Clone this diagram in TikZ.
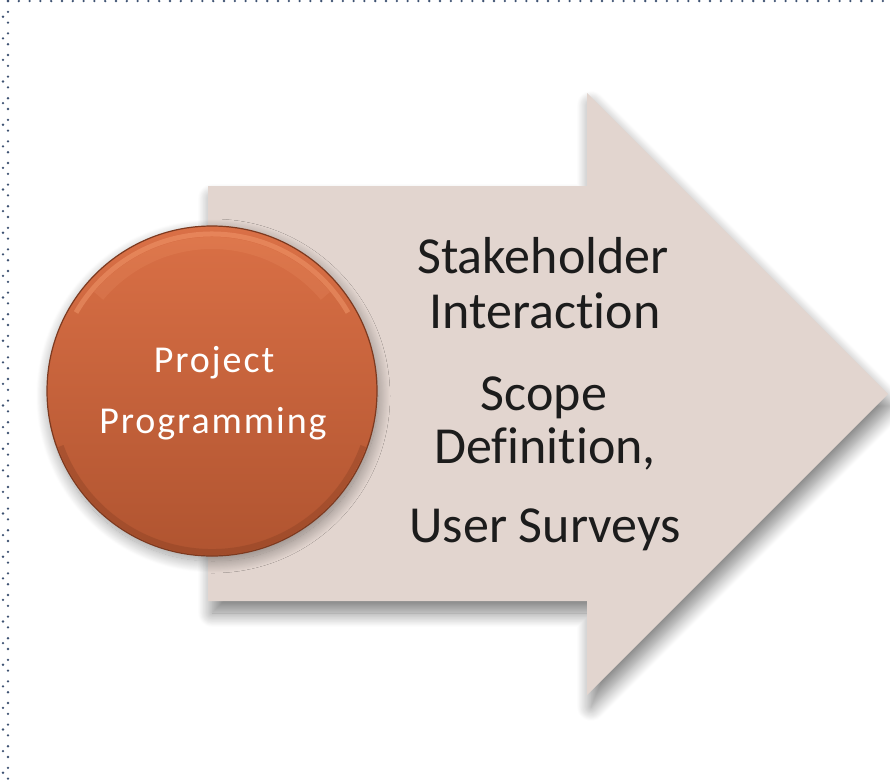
\documentclass[tikz,border=0pt]{standalone}
\usepackage{fontspec}
\setmainfont{Carlito}[RawFeature=-liga]
\newfontfamily\circfont{Carlito}[LetterSpace=5,RawFeature=-liga]
\usetikzlibrary{shadows.blur}
\definecolor{arrowfill}{HTML}{E2D5CF}
\definecolor{dotblue}{HTML}{3E5272}
\definecolor{ctop}{RGB}{218,112,70}
\definecolor{cmid}{RGB}{204,102,62}
\definecolor{cbot}{RGB}{176,84,48}
\definecolor{crim}{RGB}{125,58,32}
\definecolor{chi}{RGB}{250,165,120}
\definecolor{txt}{HTML}{1C1C1C}
\tikzset{
  frame/.style={dotblue, line width=2.6pt, line cap=round, dash pattern=on 0pt off 10.8pt},
  arrowshape/.style={fill=arrowfill, blur shadow={shadow xshift=4pt, shadow yshift=-12pt, shadow blur radius=14pt, shadow blur steps=20, shadow opacity=50}},
  ball/.style={circle, minimum size=330pt, inner sep=0pt, top color=ctop, middle color=cmid, bottom color=cbot, draw=crim, line width=1.2pt,
     blur shadow={shadow xshift=1pt, shadow yshift=-5pt, shadow blur radius=12pt, shadow blur steps=24, shadow opacity=40}},
  circtext/.style={text=white, font=\circfont\fontsize{38}{44}\selectfont, inner sep=0pt, anchor=base},
  rtext/.style={text=txt, font=\fontsize{52}{60}\selectfont, inner sep=0pt, anchor=base}
}
\begin{document}
\begin{tikzpicture}[x=1pt,y=-1pt]
\useasboundingbox (0,0) rectangle (890,780);
% dotted frame
\coordinate (tl) at (8,1);
\coordinate (tr) at (890,1);
\coordinate (bl) at (8,780);
\coordinate (tl2) at (3,16.7);
\coordinate (bl2) at (3,780);
\draw[frame] (tl) -- (tr);
\draw[frame] (tl) -- (bl);
\draw[frame, dash pattern=on 0pt off 21.6pt] (tl2) -- (bl2);
% arrow
\coordinate (a1) at (208,186);
\coordinate (a2) at (587,186);
\coordinate (a3) at (587,93);
\coordinate (tip) at (888,394);
\coordinate (a5) at (587,695);
\coordinate (a6) at (587,601);
\coordinate (a7) at (208,601);
\path[arrowshape] (a1) -- (a2) -- (a3) -- (tip) -- (a5) -- (a6) -- (a7) -- cycle;
% circle
\node[ball] (pp) at (212,391) {};
\begin{scope}
\clip (pp.center) circle (164pt);
\draw[chi, opacity=0.40, line width=5pt] (212,391) ++(30:157pt) arc (30:150:157pt);
\draw[chi, opacity=0.15, line width=12pt] (212,391) ++(40:148pt) arc (40:140:148pt);
\draw[crim, opacity=0.30, line width=6pt] (212,391) ++(200:161pt) arc (200:340:161pt);
\end{scope}
\node[circtext] (p1) at (214,372) {Project};
\node[circtext] (p2) at (213,433) {Programming};
% right text
\node[rtext] (t1) at (543,273) {Stakeholder};
\node[rtext] (t2) at (545,328) {Interaction};
\node[rtext] (t3) at (544,410) {Scope};
\node[rtext] (t4) at (545,463) {Definition,};
\node[rtext] (t5) at (545,542) {User Surveys};
\end{tikzpicture}
\end{document}
